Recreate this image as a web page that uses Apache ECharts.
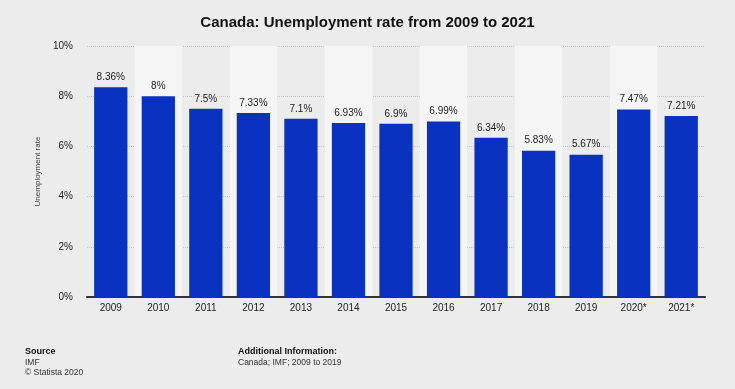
<!DOCTYPE html>
<html><head><meta charset="utf-8">
<script src="https://cdn.jsdelivr.net/npm/echarts@6/dist/echarts.min.js"></script>
<style>html,body{margin:0;padding:0;background:#ececec;}#c{width:735px;height:389px;}</style>
</head><body><div id="c"></div>
<script>
const categories = ['2009','2010','2011','2012','2013','2014','2015','2016','2017','2018','2019','2020*','2021*'];
const values = [8.36, 8, 7.5, 7.33, 7.1, 6.93, 6.9, 6.99, 6.34, 5.83, 5.67, 7.47, 7.21];
const yTicks = [0, 2, 4, 6, 8, 10];

const chart = echarts.init(document.getElementById('c'), null, {renderer: 'canvas'});
const font = 'Helvetica, Arial, "Liberation Sans", sans-serif';
chart.setOption({
  backgroundColor: '#ececec',
  animation: false,
  title: {
    text: 'Canada: Unemployment rate from 2009 to 2021',
    left: 'center', top: 10,
    textStyle: {fontFamily: font, fontSize: 15, fontWeight: 'bold', color: '#111'}
  },
  grid: {left: 87, right: 30, top: 46, bottom: 92},
  xAxis: {
    type: 'category', data: categories,
    axisLine: {lineStyle: {color: '#333', width: 2}},
    axisTick: {show: false},
    axisLabel: {fontFamily: font, fontSize: 10, color: '#222', margin: 6},
    splitArea: {show: true, areaStyle: {color: ['rgba(0,0,0,0)', '#f5f5f5']}}
  },
  yAxis: {
    type: 'value', min: 0, max: 10, interval: 2,
    name: 'Unemployment rate', nameLocation: 'middle', nameGap: 45, nameMoveOverlap: false,
    nameTextStyle: {fontFamily: font, fontSize: 8, color: '#444'},
    axisLine: {show: false}, axisTick: {show: false},
    axisLabel: {fontFamily: font, fontSize: 10, color: '#222', margin: 14,
      formatter: v => yTicks.includes(v) ? v + '%' : ''},
    splitLine: {lineStyle: {color: '#c4c4c4', type: 'dotted', width: 1}}
  },
  series: [{
    type: 'bar', data: values, barWidth: '70%',
    itemStyle: {color: '#0a32c0'},
    label: {show: true, position: 'top', distance: 5, fontFamily: font, fontSize: 10, color: '#222',
      formatter: p => p.value + '%'}
  }],
  graphic: [
    {type: 'text', left: 25, top: 347, style: {text: 'Source', font: 'bold 9px ' + font, fill: '#111'}},
    {type: 'text', left: 25, top: 358, style: {text: 'IMF', font: '8.5px ' + font, fill: '#333'}},
    {type: 'text', left: 25, top: 368, style: {text: '© Statista 2020', font: '8.5px ' + font, fill: '#333'}},
    {type: 'text', left: 238, top: 347, style: {text: 'Additional Information:', font: 'bold 9px ' + font, fill: '#111'}},
    {type: 'text', left: 238, top: 358, style: {text: 'Canada; IMF; 2009 to 2019', font: '8.5px ' + font, fill: '#333'}}
  ]
});
</script></body></html>
